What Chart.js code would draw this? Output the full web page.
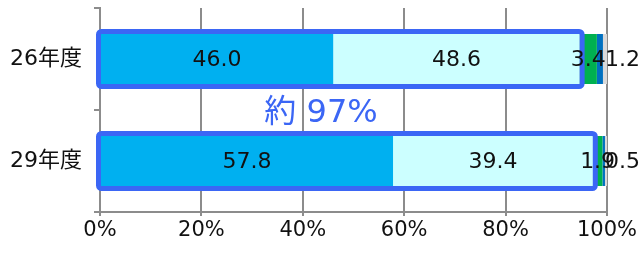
<!DOCTYPE html>
<html><head><meta charset="utf-8">
<script src="https://cdn.jsdelivr.net/npm/chart.js@4/dist/chart.umd.min.js"></script>
<style>html,body{margin:0;padding:0;background:#fff;}#wrap{width:643px;height:253px;}</style>
</head><body><div id="wrap"><canvas id="c" width="643" height="253"></canvas></div>
<script>
const categories = ['26年度', '29年度'];
const seriesA = [46.0, 57.8];
const seriesB = [48.6, 39.4];
const seriesC = [3.4, 1.9];
const seriesD = [1.2, 0.5];
const seriesE = [0.8, 0.4];
const xTicks = [0, 20, 40, 60, 80, 100];
const calloutText = '約 97%';

const colors = ['#00B0F0', '#CCFFFF', '#00B050', '#0070C0', '#D9D9D9'];
const allSeries = [seriesA, seriesB, seriesC, seriesD, seriesE];
const FONT = '"DejaVu Sans", "Noto Sans CJK JP", sans-serif';
const HL = '#3B66F5';

const labelPlugin = {
  id: 'labels',
  afterDatasetsDraw(chart) {
    const ctx = chart.ctx;
    const xs = chart.scales.x;
    ctx.save();
    categories.forEach((c, i) => {
      const bar = chart.getDatasetMeta(0).data[i];
      const top = bar.y - bar.height / 2, bot = bar.y + bar.height / 2;
      const x0 = xs.getPixelForValue(0);
      const x1 = xs.getPixelForValue(seriesA[i] + seriesB[i]);
      ctx.strokeStyle = HL; ctx.lineWidth = 5; ctx.lineJoin = 'round';
      ctx.beginPath();
      ctx.roundRect(x0 - 1.5, top - 2.5, x1 - x0 + 4, bot - top + 5, 3);
      ctx.stroke();
    });
    ctx.fillStyle = '#111';
    ctx.font = '22px ' + FONT;
    ctx.textBaseline = 'middle';
    for (let d = 0; d < 4; d++) {
      const meta = chart.getDatasetMeta(d);
      meta.data.forEach((bar, i) => {
        const txt = allSeries[d][i].toFixed(1);
        if (d === 3) {
          ctx.textAlign = 'left';
          ctx.fillText(txt, xs.getPixelForValue(100) - 2, bar.y + 1);
        } else {
          ctx.textAlign = 'center';
          ctx.fillText(txt, (bar.x + bar.base) / 2, bar.y + 1);
        }
      });
    }
    ctx.fillStyle = HL;
    ctx.font = '32px ' + FONT;
    ctx.textAlign = 'center';
    ctx.fillText(calloutText, 321, 114);
    ctx.restore();
  }
};

new Chart(document.getElementById('c'), {
  type: 'bar',
  data: {
    labels: categories,
    datasets: allSeries.map((s, i) => ({
      data: s, backgroundColor: colors[i], borderWidth: 0,
      categoryPercentage: 1, barPercentage: 0.49
    }))
  },
  options: {
    indexAxis: 'y',
    responsive: false,
    animation: false,
    layout: { padding: { top: 8, right: 36, left: 0, bottom: 0 } },
    plugins: { legend: { display: false }, tooltip: { enabled: false } },
    scales: {
      x: {
        stacked: true, min: 0, max: 100,
        afterBuildTicks(s) { s.ticks = xTicks.map(v => ({ value: v })); },
        grid: { color: '#8C8C8C', lineWidth: 2, tickLength: 4 },
        border: { color: '#8C8C8C', width: 2 },
        ticks: { color: '#111', font: { family: FONT, size: 21 }, padding: 2, callback: v => v + '%', maxRotation: 0, autoSkip: false },
        afterFit(s) { s.height = 41; }
      },
      y: {
        stacked: true,
        grid: { display: true, drawOnChartArea: false, tickLength: 6, color: '#8C8C8C', lineWidth: 2, offset: true },
        border: { color: '#8C8C8C', width: 2 },
        ticks: { color: '#111', font: { family: FONT, size: 22 }, padding: 12 },
        afterFit(s) { s.width = 100; s.paddingTop = 0; s.paddingBottom = 0; }
      }
    }
  },
  plugins: [labelPlugin]
});
</script></body></html>
